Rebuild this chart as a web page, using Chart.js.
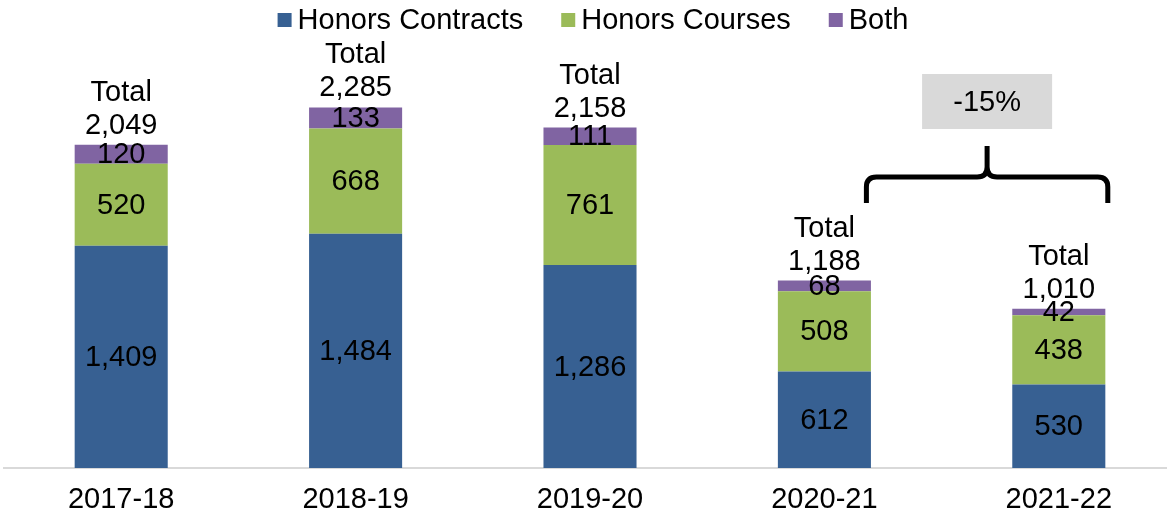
<!DOCTYPE html>
<html>
<head>
<meta charset="utf-8">
<script src="https://cdn.jsdelivr.net/npm/chart.js@4/dist/chart.umd.min.js"></script>
<style>
  html, body { margin: 0; padding: 0; background: #fff; overflow: hidden; }
  #wrap { width: 1176px; height: 519px; position: relative; }
</style>
</head>
<body>
<div id="wrap"><canvas id="chart"></canvas></div>
<script>
// data
const years = ["2017-18", "2018-19", "2019-20", "2020-21", "2021-22"];
const contracts = [1409, 1484, 1286, 612, 530];
const courses = [520, 668, 761, 508, 438];
const both = [120, 133, 111, 68, 42];
const totals = [2049, 2285, 2158, 1188, 1010];
const changeLabel = "-15%";

const FONT = "'Liberation Sans', Arial, sans-serif";
const SIZE = 29;
const fmt = (v) => v.toLocaleString("en-US");

// segment values + "Total" labels on top
const labelPlugin = {
  id: "stackLabels",
  afterDatasetsDraw(chart) {
    const ctx = chart.ctx;
    ctx.save();
    ctx.font = SIZE + "px " + FONT;
    ctx.fillStyle = "#000";
    ctx.textAlign = "center";
    ctx.textBaseline = "middle";
    chart.data.datasets.forEach((ds, di) => {
      const meta = chart.getDatasetMeta(di);
      meta.data.forEach((bar, i) => {
        const y = (bar.y + bar.base) / 2;
        ctx.fillText(fmt(ds.data[i]), bar.x, y + 1);
      });
    });
    const top = chart.getDatasetMeta(chart.data.datasets.length - 1);
    top.data.forEach((bar, i) => {
      ctx.fillText(fmt(totals[i]), bar.x, bar.y - 19);
      ctx.fillText("Total", bar.x, bar.y - 52);
    });
    ctx.restore();
  },
};

// legend drawn by hand so the box/text gap matches
const legendPlugin = {
  id: "topLegend",
  afterDraw(chart) {
    const ctx = chart.ctx;
    ctx.save();
    ctx.font = SIZE + "px " + FONT;
    ctx.textBaseline = "middle";
    const box = 14, gap = 6, between = 38;
    const items = chart.data.datasets.map((ds) => ({
      label: ds.label,
      color: ds.backgroundColor,
      w: box + gap + ctx.measureText(ds.label).width,
    }));
    const total = items.reduce((s, it) => s + it.w, 0) + between * (items.length - 1);
    const ca = chart.chartArea;
    let x = (ca.left + ca.right) / 2 + 3 - total / 2;
    const y = 20;
    items.forEach((it) => {
      ctx.fillStyle = it.color;
      ctx.fillRect(x, y - box / 2, box, box);
      ctx.fillStyle = "#000";
      ctx.fillText(it.label, x + box + gap, y + 1);
      x += it.w + between;
    });
    ctx.restore();
  },
};

// brace and change box over the last two years
const bracePlugin = {
  id: "brace",
  afterDraw(chart) {
    const ctx = chart.ctx;
    const xs = chart.scales.x;
    const x1 = xs.getPixelForValue(3) + 42;
    const x2 = xs.getPixelForValue(4) + 49;
    const mid = (x1 + x2) / 2;
    const yLine = 177, yEnd = 203, yPeak = 146, r = 10;
    ctx.save();
    ctx.strokeStyle = "#000";
    ctx.lineWidth = 5;
    ctx.lineJoin = "round";
    ctx.beginPath();
    ctx.moveTo(x1, yEnd);
    ctx.lineTo(x1, yLine + r);
    ctx.quadraticCurveTo(x1, yLine, x1 + r, yLine);
    ctx.lineTo(mid - r, yLine);
    ctx.quadraticCurveTo(mid, yLine, mid, yLine - r);
    ctx.lineTo(mid, yPeak);
    ctx.moveTo(mid, yLine - r);
    ctx.quadraticCurveTo(mid, yLine, mid + r, yLine);
    ctx.lineTo(x2 - r, yLine);
    ctx.quadraticCurveTo(x2, yLine, x2, yLine + r);
    ctx.lineTo(x2, yEnd);
    ctx.stroke();

    ctx.fillStyle = "#d9d9d9";
    ctx.fillRect(mid - 65, 74, 130, 55);
    ctx.fillStyle = "#000";
    ctx.font = SIZE + "px " + FONT;
    ctx.textAlign = "center";
    ctx.textBaseline = "middle";
    ctx.fillText(changeLabel, mid, 103);
    ctx.restore();
  },
};

new Chart(document.getElementById("chart"), {
  type: "bar",
  data: {
    labels: years,
    datasets: [
      { label: "Honors Contracts", data: contracts, backgroundColor: "#376092" },
      { label: "Honors Courses", data: courses, backgroundColor: "#9bbb59" },
      { label: "Both", data: both, backgroundColor: "#8064a2" },
    ],
  },
  options: {
    responsive: true,
    maintainAspectRatio: false,
    animation: false,
    layout: { padding: { top: 42, bottom: 0, left: 4, right: 0 } },
    datasets: {
      bar: { barPercentage: 0.397, categoryPercentage: 1 },
    },
    plugins: {
      legend: { display: false },
      tooltip: { enabled: false },
    },
    scales: {
      x: {
        stacked: true,
        grid: { display: false, drawTicks: false },
        border: { color: "#d9d9d9", width: 2 },
        ticks: { color: "#000", font: { family: FONT, size: SIZE }, padding: 15 },
        afterFit(scale) {
          scale.height = 51;
        },
      },
      y: {
        stacked: true,
        display: false,
        min: 0,
        max: 2700,
      },
    },
  },
  plugins: [labelPlugin, legendPlugin, bracePlugin],
});
</script>
</body>
</html>
